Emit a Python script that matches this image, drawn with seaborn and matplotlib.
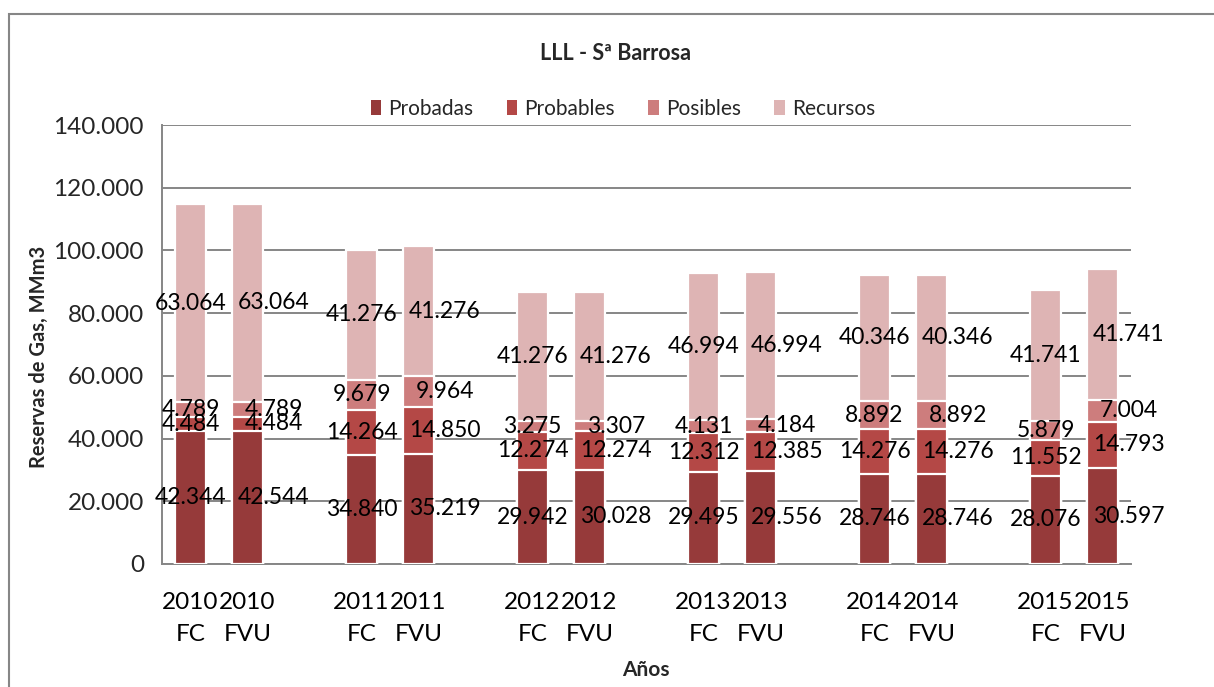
import matplotlib
matplotlib.use("Agg")
import matplotlib.pyplot as plt
import matplotlib.patches as mpatches
import seaborn as sns
import pandas as pd
import numpy as np

# ---- data ----
years = ["2010", "2011", "2012", "2013", "2014", "2015"]
kinds = ["FC", "FVU"]
probadas = [42344, 42544, 34840, 35219, 29942, 30028, 29495, 29556, 28746, 28746, 28076, 30597]
probables = [4484, 4484, 14264, 14850, 12274, 12274, 12312, 12385, 14276, 14276, 11552, 14793]
posibles = [4789, 4789, 9679, 9964, 3275, 3307, 4131, 4184, 8892, 8892, 5879, 7004]
recursos = [63064, 63064, 41276, 41276, 41276, 41276, 46994, 46994, 40346, 40346, 41741, 41741]
series_names = ["Probadas", "Probables", "Posibles", "Recursos"]
colors = ["#963a3a", "#b44846", "#cd7d7d", "#deb4b4"]
title = "LLL - Sª Barrosa"
ylabel = "Reservas de Gas, MMm3"
xlabel = "Años"

sns.set_theme(style="white")
plt.rcParams['font.family'] = ['Lato', 'DejaVu Sans']

rows = []
for gi, y in enumerate(years):
    for ki, k in enumerate(kinds):
        idx = gi * 2 + ki
        rows.append({"label": f"{y}\n{k}", "pos": gi * 3 + ki, "kind": k,
                     "Probadas": probadas[idx], "Probables": probables[idx],
                     "Posibles": posibles[idx], "Recursos": recursos[idx]})
df = pd.DataFrame(rows)
cum = df[series_names].cumsum(axis=1)
for s in series_names:
    df["cum_" + s] = cum[s]

fig = plt.figure(figsize=(12.14, 6.87), dpi=100)
ax = fig.add_axes([162 / 1214, 1 - 564 / 687, (1131 - 162) / 1214, (564 - 125) / 687])

# draw stacked bars from top to bottom (overlapping cumulative)
for s, c in zip(reversed(series_names), reversed(colors)):
    sns.barplot(data=df, x="pos", y="cum_" + s, native_scale=True, color=c,
                width=0.545, edgecolor="white", linewidth=1.6, ax=ax,
                saturation=1, errorbar=None, zorder=3)

ax.set_xlim(-0.5, 16.5)
ax.set_ylim(0, 140000)
ax.set_yticks(np.arange(0, 140001, 20000))
fmt = lambda v: f"{int(v):,}".replace(",", ".")
ax.set_yticklabels([fmt(v) for v in np.arange(0, 140001, 20000)], fontsize=17.5)
ax.set_xticks(df["pos"])
ax.set_xticklabels(df["label"], fontsize=17.5, linespacing=1.65)
ax.tick_params(axis="x", length=0, pad=20, colors="black")
ax.tick_params(axis="y", length=7, width=1.3, color="#868686", direction="out", pad=6)
ax.grid(axis="y", color="#868686", linewidth=1.4, zorder=0)
ax.set_axisbelow(True)
for side in ["top", "right"]:
    ax.spines[side].set_visible(False)
for side in ["left", "bottom"]:
    ax.spines[side].set_color("#868686")
    ax.spines[side].set_linewidth(1.4)
ax.set_xlabel("")
ax.set_ylabel("")
fig.text(646 / 1214, 1 - 670 / 687, xlabel, ha="center", va="center", fontsize=15, fontweight="bold")
fig.text(39 / 1214, 1 - 357 / 687, ylabel, ha="center", va="center", rotation=90,
         fontsize=14.5, fontweight="bold")

# data labels
for _, r in df.iterrows():
    base = 0
    dx = 0 if r["kind"] == "FC" else 19
    for s in series_names:
        v = r[s]
        ax.annotate(fmt(v), xy=(r["pos"], base + v / 2), xytext=(dx, 0),
                    textcoords="offset points", ha="center", va="center",
                    fontsize=16.5, color="black", zorder=5)
        base += v

# legend
handles = [mpatches.Patch(facecolor=c, edgecolor="none", label=n) for n, c in zip(series_names, colors)]
fig.legend(handles=handles, loc="center", bbox_to_anchor=(623 / 1214, 1 - 109 / 687), ncol=4,
           frameon=False, fontsize=15, handlelength=0.5, handleheight=0.7,
           handletextpad=0.35, columnspacing=1.6)

fig.text(616 / 1214, 1 - 53 / 687, title, ha="center", va="center", fontsize=15.5, fontweight="bold")

# chart border
fig.patches.append(mpatches.Rectangle((9 / 1214, -0.05), 1.2, 1 - 14 / 687 + 0.05,
                                      transform=fig.transFigure, fill=False,
                                      edgecolor="#868686", linewidth=1.5))

fig.savefig("out.png", dpi=100)
